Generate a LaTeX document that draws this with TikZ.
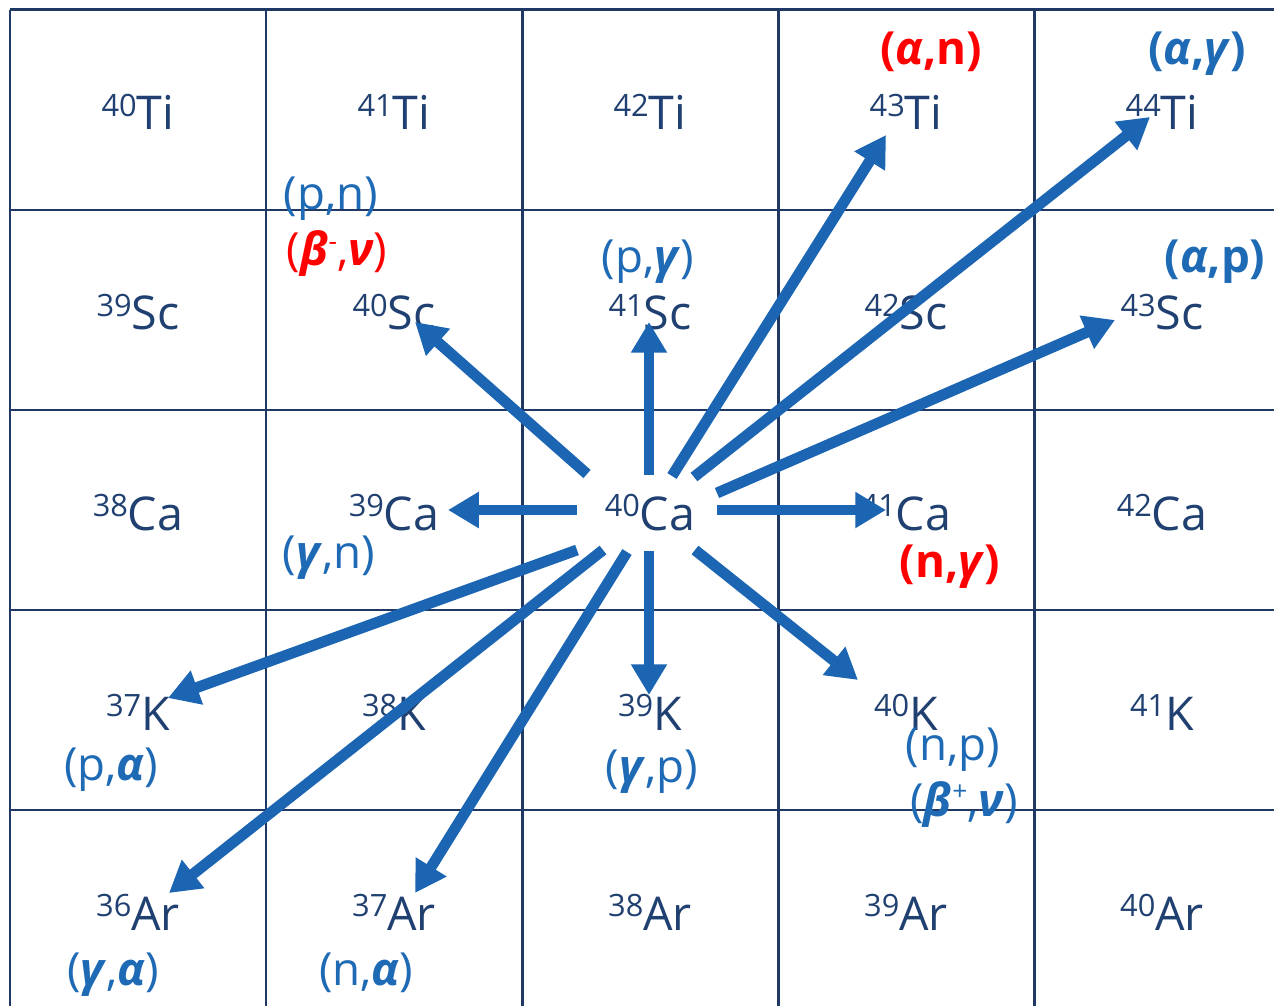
\documentclass[tikz,border=0pt]{standalone}
\usepackage{fontspec}
\setmainfont{Open Sans}
\usetikzlibrary{arrows.meta}
\definecolor{gridc}{RGB}{31,56,100}
\definecolor{elc}{RGB}{31,64,112}
\definecolor{lblc}{RGB}{31,106,181}
\definecolor{arrc}{RGB}{27,101,178}
\definecolor{redc}{RGB}{255,0,0}
\newcommand\nucl[2]{\raisebox{7.5pt}{\fontsize{17.5}{18}\selectfont #1}#2}
\newcommand\gb[1]{\textbf{\textit{#1}}}
\newcommand\supc[1]{\raisebox{9pt}{\fontsize{15}{16}\selectfont #1}}
\begin{document}
\begin{tikzpicture}[x=0.02cm,y=-0.02cm,
  el/.style={anchor=base, text=elc, font=\fontsize{26.5}{30}\selectfont, inner sep=0pt},
  lbl/.style={anchor=base, text=lblc, font=\fontsize{26}{30}\selectfont, inner sep=0pt},
  lblred/.style={lbl, text=redc},
  arr/.style={draw=arrc, line width=6.2pt, -{Triangle[length=17.5pt,width=19.5pt]}},
  gridline/.style={draw=gridc, line width=1.7pt}]
\useasboundingbox (0,0) rectangle (1274,1006);
% grid
\foreach \x in {10,266,522,778,1034} \draw[gridline] (\x,10) -- (\x,1006);
\foreach \y in {10,210,410,610,810} \draw[gridline] (10,\y) -- (1274,\y);
% elements
\node[el] (ti40) at (138,130) {\nucl{40}{Ti}};
\node[el] (ti41) at (394,130) {\nucl{41}{Ti}};
\node[el] (ti42) at (650,130) {\nucl{42}{Ti}};
\node[el] (ti43) at (906,130) {\nucl{43}{Ti}};
\node[el] (ti44) at (1162,130) {\nucl{44}{Ti}};
\node[el] (sc39) at (138,330) {\nucl{39}{Sc}};
\node[el] (sc40) at (394,330) {\nucl{40}{Sc}};
\node[el] (sc41) at (650,330) {\nucl{41}{Sc}};
\node[el] (sc42) at (906,330) {\nucl{42}{Sc}};
\node[el] (sc43) at (1162,330) {\nucl{43}{Sc}};
\node[el] (ca38) at (138,530) {\nucl{38}{Ca}};
\node[el] (ca39) at (394,530) {\nucl{39}{Ca}};
\node[el] (ca40) at (650,530) {\nucl{40}{Ca}};
\node[el] (ca41) at (906,530) {\nucl{41}{Ca}};
\node[el] (ca42) at (1162,530) {\nucl{42}{Ca}};
\node[el] (k37) at (138,730) {\nucl{37}{K}};
\node[el] (k38) at (394,730) {\nucl{38}{K}};
\node[el] (k39) at (650,730) {\nucl{39}{K}};
\node[el] (k40) at (906,730) {\nucl{40}{K}};
\node[el] (k41) at (1162,730) {\nucl{41}{K}};
\node[el] (ar36) at (138,930) {\nucl{36}{Ar}};
\node[el] (ar37) at (394,930) {\nucl{37}{Ar}};
\node[el] (ar38) at (650,930) {\nucl{38}{Ar}};
\node[el] (ar39) at (906,930) {\nucl{39}{Ar}};
\node[el] (ar40) at (1162,930) {\nucl{40}{Ar}};
% reaction labels
\node[lblred] (lan) at (931,65) {\textbf{(\textit{α},n)}};
\node[lbl] (lag) at (1197,65) {\textbf{(\textit{α},\textit{γ})}};
\node[lbl] (lpn) at (331,210) {(p,n)};
\node[lblred] (lbm) at (337,266) {(\gb{β}\supc{-},\gb{ν})};
\node[lbl] (lpg) at (648,273) {(p,\gb{γ})};
\node[lbl] (lap) at (1215,273) {\textbf{(\textit{α},p)}};
\node[lblred] (lng) at (950,577) {\textbf{(n,\textit{γ})}};
\node[lbl] (lgn) at (329,568) {(\gb{γ},n)};
\node[lbl] (lpa) at (111,780) {(p,\gb{α})};
\node[lbl] (lgp) at (652,782) {(\gb{γ},p)};
\node[lbl] (lnp) at (953,760) {(n,p)};
\node[lbl] (lbp) at (964,816) {(\gb{β}\supc{+},\gb{ν})};
\node[lbl] (lga) at (113,985) {(\gb{γ},\gb{α})};
\node[lbl] (lna) at (366,985) {(n,\gb{α})};
% arrow end points
\coordinate (s1) at (587,474); \coordinate (t1) at (415,322);
\coordinate (s2) at (649,475); \coordinate (t2) at (649,322);
\coordinate (s3) at (672,476); \coordinate (t3) at (886,135);
\coordinate (s4) at (694,477); \coordinate (t4) at (1150,117);
\coordinate (s5) at (717,493); \coordinate (t5) at (1115,320);
\coordinate (s6) at (717,510); \coordinate (t6) at (886,510);
\coordinate (s7) at (577,510); \coordinate (t7) at (448,510);
\coordinate (s8) at (577,550); \coordinate (t8) at (168,698);
\coordinate (s9) at (603,550); \coordinate (t9) at (169,893);
\coordinate (s10) at (627,552); \coordinate (t10) at (415,893);
\coordinate (s11) at (649,551); \coordinate (t11) at (649,695);
\coordinate (s12) at (695,550); \coordinate (t12) at (858,680);
\foreach \i in {1,...,12} \draw[arr] (s\i) -- (t\i);
\end{tikzpicture}
\end{document}
